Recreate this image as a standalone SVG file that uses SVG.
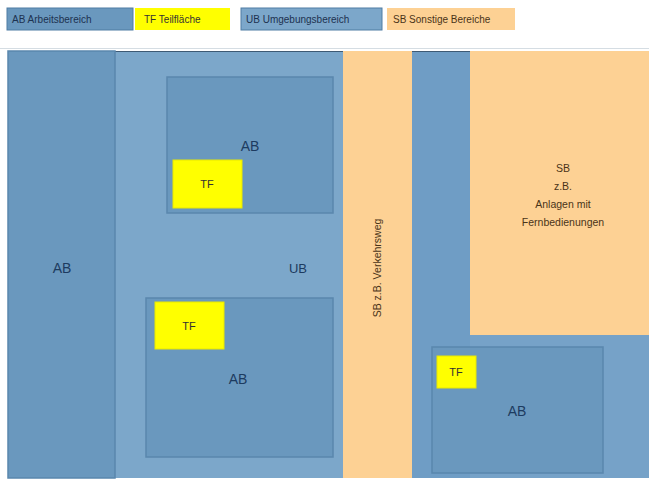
<svg xmlns="http://www.w3.org/2000/svg" width="649" height="480" viewBox="0 0 649 480">
<style>
.ab{fill:#6a98be;stroke:#5a87ad;stroke-width:1.5}
.ub{fill:#7ca7ca}
.sb{fill:#fdd194}
.tf{fill:#ffff00;stroke:#e8e800;stroke-width:1}
.t{font-family:"Liberation Sans",Arial,sans-serif;text-anchor:middle}
.lab{font-size:14px;fill:#1d3b60}
.tft{font-size:11px;fill:#333}
.leg{font-size:10px;text-anchor:start;fill:#1d3250}
.sbt{font-size:10.5px;fill:#4a3418}
</style>
<rect width="649" height="480" fill="#ffffff"/>
<g id="legend">
<g id="leg-ab"><rect x="7" y="8" width="126" height="22" fill="#6a98be" stroke="#4f7ca3"/><text class="t leg" x="12" y="23">AB Arbeitsbereich</text></g>
<g id="leg-tf"><rect x="135" y="8" width="95" height="22" fill="#ffff00"/><text class="t leg" x="144" y="23" style="fill:#333">TF Teilfläche</text></g>
<g id="leg-ub"><rect x="241" y="8" width="141" height="22" fill="#7ca7ca" stroke="#4f7ca3"/><text class="t leg" x="246" y="23">UB Umgebungsbereich</text></g>
<g id="leg-sb"><rect x="387" y="8" width="128" height="22" fill="#fdd194"/><text class="t leg" x="393" y="23" style="fill:#4a3418">SB Sonstige Bereiche</text></g>
<line x1="0" y1="48.5" x2="649" y2="48.5" stroke="#d5dde3" stroke-width="1"/>
</g>
<g id="ub-area"><rect class="ub" x="115" y="51" width="534" height="427"/><line x1="115" y1="51.5" x2="649" y2="51.5" stroke="#3e5a74" stroke-width="1"/><text class="t lab" x="298" y="273" style="font-size:13px">UB</text></g>
<g id="ab-left"><rect class="ab" x="8" y="51" width="107" height="427"/><text class="t lab" x="62" y="273">AB</text></g>
<g id="sb-way"><rect class="sb" x="343" y="51" width="69" height="427"/><text class="t sbt" transform="translate(381,268) rotate(-90)">SB z.B. Verkehrsweg</text></g>
<g id="blue-strip"><rect x="412" y="52" width="58" height="426" fill="#6f9dc5"/></g>
<g id="sb-area"><rect class="sb" x="470" y="51" width="179" height="284"/>
<text class="t sbt" x="563" y="172">SB</text><text class="t sbt" x="563" y="190">z.B.</text><text class="t sbt" x="563" y="208">Anlagen mit</text><text class="t sbt" x="563" y="226">Fernbedienungen</text></g>
<g id="ub-right"><rect x="470" y="335" width="179" height="143" fill="#76a2c8"/></g>
<g id="ab-top"><rect class="ab" x="167" y="77" width="166" height="136"/><text class="t lab" x="250" y="151">AB</text></g>
<g id="tf-top"><rect class="tf" x="173" y="160" width="69" height="48"/><text class="t tft" x="207" y="188">TF</text></g>
<g id="ab-bottom"><rect class="ab" x="146" y="298" width="187" height="159"/><text class="t lab" x="238" y="384">AB</text></g>
<g id="tf-bottom"><rect class="tf" x="155" y="302" width="69" height="47"/><text class="t tft" x="189" y="330">TF</text></g>
<g id="ab-right"><rect class="ab" x="432" y="347" width="171" height="126"/><text class="t lab" x="517" y="416">AB</text></g>
<g id="tf-right"><rect class="tf" x="437" y="356" width="39" height="32"/><text class="t tft" x="456" y="376">TF</text></g>
<g id="connectors"/>
</svg>
